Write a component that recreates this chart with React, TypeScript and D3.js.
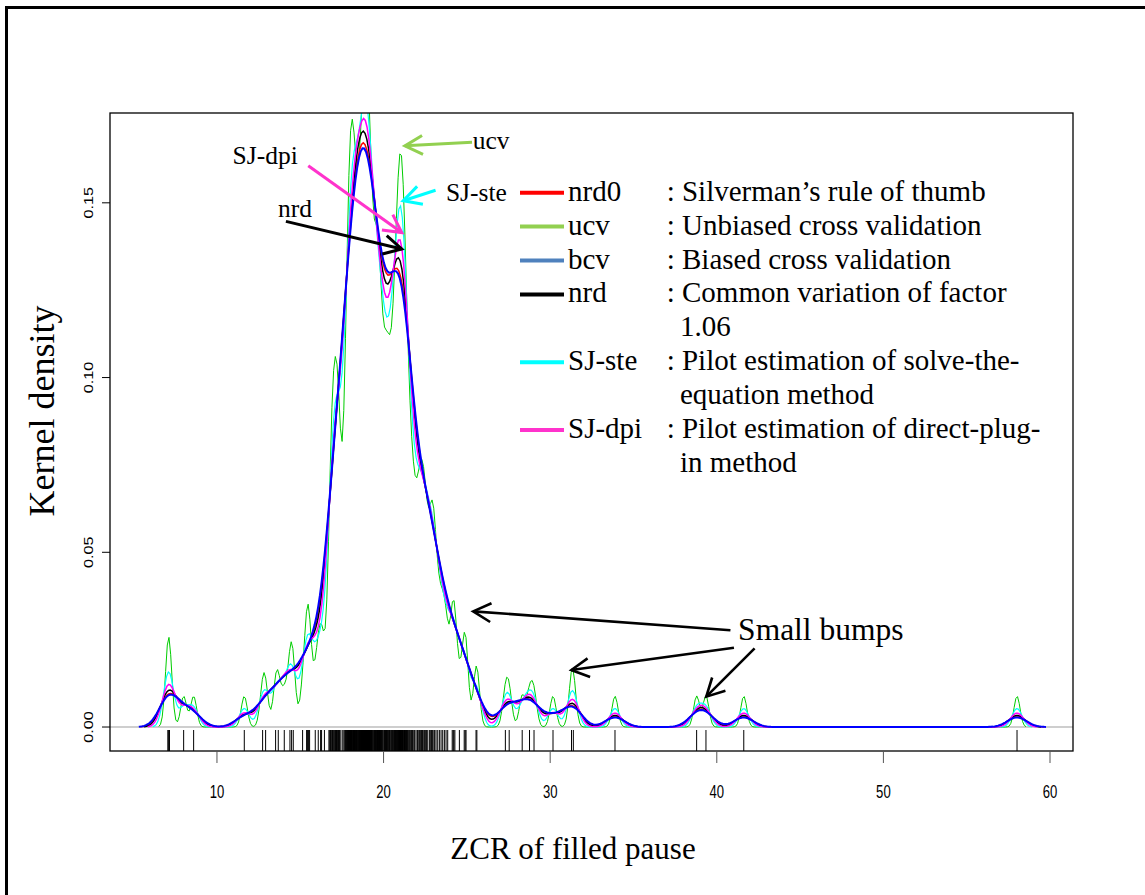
import React, { useMemo } from "react";
import * as d3 from "d3";

// observed ZCR values of filled pauses (rug marks)
const zcrObs = [
  7.05, 7.1, 7.15, 8.0, 8.6, 11.64, 12.74, 12.92, 13.52, 13.68,
  14.04, 14.38, 14.48, 14.58,
  15.14, 15.38, 15.44, 15.5, 15.56, 15.9,
  16.08, 16.22, 16.28, 16.45, 16.72, 16.77, 16.81, 16.85, 16.9, 16.92, 16.95, 16.98,
  17.03, 17.07, 17.12, 17.15, 17.18, 17.21, 17.25, 17.28, 17.31, 17.34, 17.37,
  17.44, 17.55, 17.62, 17.67, 17.71, 17.74, 17.78, 17.81, 17.83, 17.86, 17.89,
  17.91, 17.93, 17.95, 17.97, 17.99,
  18.01, 18.03, 18.05, 18.07, 18.09, 18.12, 18.15, 18.17, 18.19,
  18.21, 18.23, 18.25, 18.27, 18.29, 18.32, 18.35, 18.37, 18.39, 18.43, 18.46, 18.49,
  18.52, 18.55, 18.57, 18.59, 18.62, 18.64, 18.66, 18.68,
  18.71, 18.73, 18.75, 18.77, 18.79, 18.81, 18.83, 18.85, 18.87, 18.89,
  18.91, 18.93, 18.95, 18.97, 18.99,
  19.01, 19.03, 19.05, 19.07, 19.09, 19.11, 19.13, 19.15, 19.17, 19.19,
  19.22, 19.24, 19.26, 19.28, 19.32, 19.35, 19.38, 19.42, 19.45, 19.48,
  19.51, 19.54, 19.56, 19.59, 19.61, 19.64, 19.66, 19.69, 19.71, 19.74, 19.76, 19.79,
  19.82, 19.85, 19.88, 19.93, 19.97,
  20.02, 20.05, 20.08, 20.12, 20.15, 20.18, 20.22, 20.25, 20.28, 20.32, 20.35, 20.38,
  20.43, 20.47, 20.52, 20.55, 20.58, 20.62, 20.65, 20.68, 20.71, 20.74, 20.76, 20.79,
  20.82, 20.85, 20.87, 20.89, 20.92, 20.94, 20.96, 20.98,
  21.01, 21.03, 21.05, 21.07, 21.09, 21.12, 21.14, 21.16, 21.18,
  21.22, 21.24, 21.26, 21.28, 21.32, 21.35, 21.38, 21.42, 21.45, 21.48,
  21.53, 21.57, 21.63, 21.67, 21.73, 21.77, 21.83, 21.87, 21.95,
  22.03, 22.07, 22.13, 22.17, 22.23, 22.27, 22.33, 22.37, 22.43, 22.47, 22.53, 22.57,
  22.65, 22.75, 22.83, 22.87, 22.92, 22.96,
  23.03, 23.07, 23.15, 23.25, 23.35, 23.45, 23.55, 23.65, 23.75, 23.85,
  24.12, 24.18, 24.22, 24.28, 24.55, 24.84, 24.9, 24.95, 25.55, 25.6,
  27.31, 27.54, 28.32, 28.76, 29.03, 30.17, 31.28, 31.39, 33.89, 38.79, 39.35, 41.62, 58.02,
];

const methods = ["nrd0", "ucv", "bcv", "nrd", "SJ-ste", "SJ-dpi"];
const bandwidths = [0.55, 0.18, 0.58, 0.48, 0.3, 0.4];
const descriptions = [
  ["Silverman’s rule of thumb"],
  ["Unbiased cross validation"],
  ["Biased cross validation"],
  ["Common variation of factor", "1.06"],
  ["Pilot estimation of solve-the-", "equation method"],
  ["Pilot estimation of direct-plug-", "in method"],
];
const xTicks = [10, 20, 30, 40, 50, 60];
const yTicks = [0, 0.05, 0.1, 0.15];

// annotation arrows, in data coordinates [zcr, density]
const methodNotes = [
  { method: "ucv", tip: [21.28, 0.1663], tail: [25.31, 0.1673], at: [25.35, 0.1654] },
  { method: "SJ-ste", tip: [21.18, 0.1506], tail: [23.12, 0.1536], at: [23.74, 0.1506] },
  { method: "SJ-dpi", tip: [21.09, 0.1415], tail: [15.48, 0.1606], at: [10.94, 0.161] },
  { method: "nrd", tip: [21.09, 0.1368], tail: [14.14, 0.1447], at: [13.66, 0.1458] },
];
const bumpLabel = "Small bumps";
const bumpAt = [41.28, 0.0249];
const bumpArrows = [
  { tip: [25.38, 0.0331], tail: [40.82, 0.0277] },
  { tip: [31.27, 0.0163], tail: [41.03, 0.0227] },
  { tip: [39.37, 0.0087], tail: [42.27, 0.0225] },
];

const plotColor: Record<string, string> = {
  nrd0: "#ff0000", ucv: "#00cd00", bcv: "#0000ff", nrd: "#000000", "SJ-ste": "#00ffff", "SJ-dpi": "#ff00ff",
};
const legendColor: Record<string, string> = {
  nrd0: "#ff0000", ucv: "#92d050", bcv: "#4f81bd", nrd: "#000000", "SJ-ste": "#00ffff", "SJ-dpi": "#ff33cc",
};
const lineWidth: Record<string, number> = {
  nrd0: 1.5, ucv: 1, bcv: 2, nrd: 1.5, "SJ-ste": 1.2, "SJ-dpi": 1.5,
};
const drawOrder = ["ucv", "SJ-ste", "nrd0", "nrd", "SJ-dpi", "bcv"];

const serif = "Liberation Serif, DejaVu Serif, Noto Serif, Times New Roman, Times, serif";
const sans = "Liberation Sans, Arial, Helvetica, sans-serif";

const W = 1145, H = 895;
const box = { left: 110, right: 1073, top: 113, bottom: 751 };

function kde(data: number[], h: number) {
  const lo = (d3.min(data) as number) - 3 * h;
  const hi = (d3.max(data) as number) + 3 * h;
  const norm = data.length * h * Math.sqrt(2 * Math.PI);
  return d3.range(512).map((i) => {
    const x = lo + ((hi - lo) * i) / 511;
    let s = 0;
    for (const v of data) {
      const z = (x - v) / h;
      s += Math.exp(-0.5 * z * z);
    }
    return [x, s / norm] as [number, number];
  });
}

function Arrow({ tip, tail, color, width }: { tip: number[]; tail: number[]; color: string; width: number }) {
  const ang = Math.atan2(tail[1] - tip[1], tail[0] - tip[0]);
  const len = 20, spread = (28 * Math.PI) / 180;
  const w1 = [tip[0] + len * Math.cos(ang + spread), tip[1] + len * Math.sin(ang + spread)];
  const w2 = [tip[0] + len * Math.cos(ang - spread), tip[1] + len * Math.sin(ang - spread)];
  return (
    <g stroke={color} strokeWidth={width} fill="none">
      <line x1={tail[0]} y1={tail[1]} x2={tip[0]} y2={tip[1]} />
      <polyline points={`${w1[0]},${w1[1]} ${tip[0]},${tip[1]} ${w2[0]},${w2[1]}`} />
    </g>
  );
}

export default function App() {
  const x = d3.scaleLinear().domain([3.58, 61.38]).range([box.left, box.right]);
  const y = d3.scaleLinear().domain([-0.00686, 0.1757]).range([box.bottom, box.top]);
  const pt = (d: number[]) => [x(d[0]), y(d[1])];

  const curves = useMemo(() => {
    const out: Record<string, [number, number][]> = {};
    methods.forEach((m, i) => (out[m] = kde(zcrObs, bandwidths[i])));
    return out;
  }, []);

  const line = d3
    .line<[number, number]>()
    .x((d) => x(d[0]))
    .y((d) => y(d[1]));

  // legend rows (one row per text line)
  const legendBase = 200.7, legendStep = 33.9;
  let row = 0;
  const legendRows = methods.map((m, i) => {
    const r = row;
    row += descriptions[i].length;
    return { m, r, lines: descriptions[i] };
  });

  const serifStyle = { fontFamily: serif };
  const sansStyle = { fontFamily: sans };

  return (
    <svg width={W} height={H} style={{ position: "absolute", left: 0, top: 0, background: "#fff" }}>
      <defs>
        <clipPath id="plotClip">
          <rect x={box.left} y={box.top} width={box.right - box.left} height={box.bottom - box.top} />
        </clipPath>
      </defs>
      <rect x={6.5} y={7.5} width={1300} height={1000} fill="none" stroke="#000" strokeWidth={3} />

      {/* zero line */}
      <line x1={box.left} x2={box.right} y1={y(0)} y2={y(0)} stroke="#bebebe" strokeWidth={1.5} />

      {/* density curves */}
      <g clipPath="url(#plotClip)">
        {drawOrder.map((m) => (
          <path key={m} d={line(curves[m]) || ""} fill="none" stroke={plotColor[m]} strokeWidth={lineWidth[m]} />
        ))}
      </g>

      {/* rug */}
      <g stroke="#000" strokeWidth={1}>
        {zcrObs.map((v, i) => (
          <line key={i} x1={x(v)} x2={x(v)} y1={box.bottom} y2={box.bottom - 21} />
        ))}
      </g>

      <rect x={box.left} y={box.top} width={box.right - box.left} height={box.bottom - box.top} fill="none" stroke="#000" strokeWidth={1.3} />

      {/* x axis */}
      {xTicks.map((t) => (
        <g key={t}>
          <line x1={x(t)} x2={x(t)} y1={box.bottom} y2={box.bottom + 12} stroke="#555" strokeWidth={1} />
          <text transform={`translate(${x(t)},798) scale(1,1.42)`} textAnchor="middle" style={sansStyle} fontSize={13.1} fill="#000">
            {t}
          </text>
        </g>
      ))}
      {/* y axis */}
      {yTicks.map((t) => (
        <g key={t}>
          <line x1={box.left} x2={box.left - 8} y1={y(t)} y2={y(t)} stroke="#000" strokeWidth={1} />
          <text transform={`translate(92.7,${y(t)}) rotate(-90) scale(1.33,1)`} textAnchor="middle" style={sansStyle} fontSize={12.2} fill="#000">
            {d3.format(".2f")(t)}
          </text>
        </g>
      ))}

      <text x={573} y={859} textAnchor="middle" style={serifStyle} fontSize={31} fill="#000">
        ZCR of filled pause
      </text>
      <text transform="translate(54,411) rotate(-90)" textAnchor="middle" style={serifStyle} fontSize={36} fill="#000">
        Kernel density
      </text>

      {/* legend */}
      {legendRows.map(({ m, r, lines }) => {
        const base = legendBase + r * legendStep;
        return (
          <g key={m}>
            <line x1={520} x2={564} y1={base - 8} y2={base - 8} stroke={legendColor[m]} strokeWidth={4} />
            <text x={568} y={base} style={serifStyle} fontSize={29} fill="#000">{m}</text>
            {lines.map((l, j) => (
              <text key={j} x={j === 0 ? 666.7 : 680} y={base + j * legendStep} style={serifStyle} fontSize={29} fill="#000">
                {j === 0 ? `: ${l}` : l}
              </text>
            ))}
          </g>
        );
      })}

      {/* method annotations */}
      {methodNotes.map((n) => (
        <g key={n.method}>
          <Arrow tip={pt(n.tip)} tail={pt(n.tail)} color={legendColor[n.method]} width={3} />
          <text x={x(n.at[0])} y={y(n.at[1])} style={serifStyle} fontSize={25.5} fill="#000">
            {n.method}
          </text>
        </g>
      ))}

      {/* small bumps */}
      {bumpArrows.map((a, i) => (
        <Arrow key={i} tip={pt(a.tip)} tail={pt(a.tail)} color="#000" width={2.6} />
      ))}
      <text x={x(bumpAt[0])} y={y(bumpAt[1])} style={serifStyle} fontSize={31.5} fill="#000">
        {bumpLabel}
      </text>
    </svg>
  );
}
